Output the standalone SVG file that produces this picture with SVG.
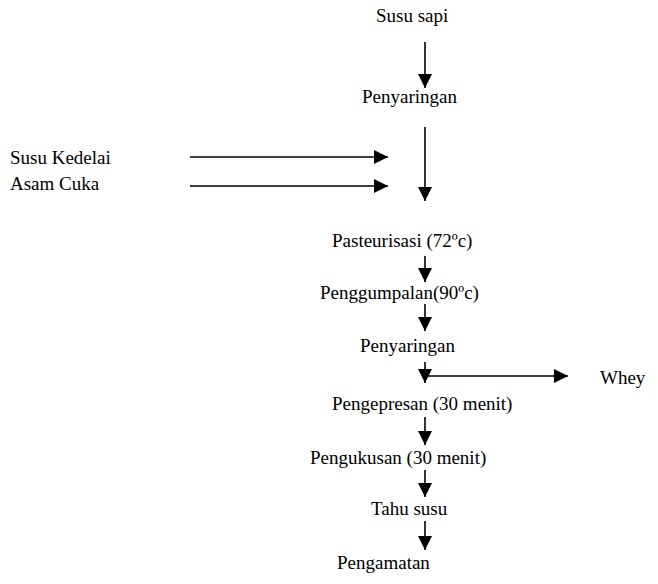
<svg xmlns="http://www.w3.org/2000/svg" width="658" height="584" viewBox="0 0 658 584">
<defs>
<style>
.c line{stroke:#000;stroke-width:1.6}
.t{font-family:'Liberation Serif',serif;font-size:19px;fill:#000}
</style>
<marker id="ah" markerUnits="userSpaceOnUse" markerWidth="14" markerHeight="14" refX="14" refY="7" orient="auto">
<path d="M0,0L14,7L0,14Z" fill="#000"/>
</marker>
</defs>
<rect width="658" height="584" fill="#fff"/>
<g class="c" id="connectors">
<line x1="425" y1="42" x2="425" y2="88" marker-end="url(#ah)"/>
<line x1="425" y1="127" x2="425" y2="201" marker-end="url(#ah)"/>
<line x1="190" y1="157" x2="388" y2="157" marker-end="url(#ah)"/>
<line x1="190" y1="186" x2="388" y2="186" marker-end="url(#ah)"/>
<line x1="425" y1="256" x2="425" y2="282" marker-end="url(#ah)"/>
<line x1="425" y1="304" x2="425" y2="331" marker-end="url(#ah)"/>
<line x1="425" y1="362" x2="425" y2="383" marker-end="url(#ah)"/>
<line x1="425" y1="376" x2="568" y2="376" marker-end="url(#ah)"/>
<line x1="425" y1="417" x2="425" y2="445" marker-end="url(#ah)"/>
<line x1="425" y1="470" x2="425" y2="497" marker-end="url(#ah)"/>
<line x1="425" y1="521" x2="425" y2="550" marker-end="url(#ah)"/>
</g>
<g id="n1"><text class="t" x="376" y="22">Susu sapi</text></g>
<g id="n2"><text class="t" x="362" y="103">Penyaringan</text></g>
<g id="n3"><text class="t" x="10" y="164">Susu Kedelai</text></g>
<g id="n4"><text class="t" x="10" y="190">Asam Cuka</text></g>
<g id="n5"><text class="t" x="332" y="247">Pasteurisasi (72ºc)</text></g>
<g id="n6"><text class="t" x="320" y="299">Penggumpalan(90ºc)</text></g>
<g id="n7"><text class="t" x="360" y="352">Penyaringan</text></g>
<g id="n8"><text class="t" x="600" y="384">Whey</text></g>
<g id="n9"><text class="t" x="332" y="410">Pengepresan (30 menit)</text></g>
<g id="n10"><text class="t" x="310" y="464">Pengukusan (30 menit)</text></g>
<g id="n11"><text class="t" x="371" y="515">Tahu susu</text></g>
<g id="n12"><text class="t" x="337" y="569">Pengamatan</text></g>
</svg>
